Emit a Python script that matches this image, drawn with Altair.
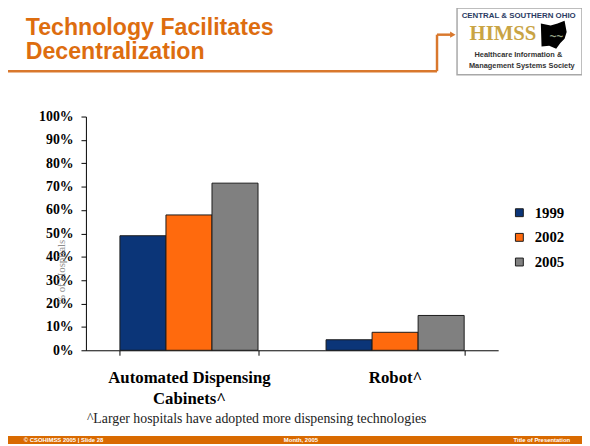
import altair as alt
import pandas as pd

# ---- data ----
categories = ["Automated Dispensing\nCabinets^", "Robot^"]
years = ["1999", "2002", "2005"]
values_1999 = [0.490, 0.045]
values_2002 = [0.579, 0.077]
values_2005 = [0.715, 0.149]
colors = ["#0B3578", "#FF6A0D", "#808080"]
title_lines = ["Technology Facilitates", "Decentralization"]

series = {"1999": values_1999, "2002": values_2002, "2005": values_2005}
rows = []
for yr in years:
    for cat, v in zip(categories, series[yr]):
        rows.append({"category": cat, "year": yr, "value": v})
df = pd.DataFrame(rows)

SERIF = "Liberation Serif"
SANS = "Liberation Sans"
ORANGE = "#DD6D0F"

bars = alt.Chart(df).mark_bar(stroke="#1a1a1a", strokeWidth=1).encode(
    x=alt.X(
        "category:N",
        sort=categories,
        scale=alt.Scale(paddingInner=0.33, paddingOuter=0.165),
        axis=alt.Axis(
            title=None,
            labelAngle=0,
            labelExpr="split(datum.label, '\\n')",
            labelFont=SERIF,
            labelFontWeight="bold",
            labelFontSize=17,
            labelColor="black",
            labelLineHeight=21,
            labelPadding=15,
            labelLimit=0,
            tickBand="extent",
            tickSize=5,
            tickColor="black",
            domainColor="black",
            grid=False,
        ),
    ),
    xOffset=alt.XOffset("year:N", sort=years, scale=alt.Scale(paddingInner=0, paddingOuter=0)),
    y=alt.Y(
        "value:Q",
        scale=alt.Scale(domain=[0, 1], nice=False),
        axis=alt.Axis(
            title="% of Hospitals",
            titleFont=SERIF,
            titleFontSize=11,
            titleFontWeight="normal",
            titleColor="#8c8c8c",
            titleX=-25,
            titleY=157,
            titleAlign="center",
            titleBaseline="middle",
            titleAngle=270,
            format=".0%",
            values=[i / 10 for i in range(11)],
            labelFont=SERIF,
            labelFontWeight="bold",
            labelFontSize=14,
            labelColor="black",
            labelPadding=8,
            tickSize=5,
            tickColor="black",
            domainColor="black",
            grid=False,
        ),
    ),
    color=alt.Color(
        "year:N",
        sort=years,
        scale=alt.Scale(domain=years, range=colors),
        legend=alt.Legend(
            title=None,
            orient="none",
            legendX=432,
            legendY=90,
            symbolType="square",
            symbolSize=64,
            symbolStrokeColor="#1a1a1a",
            symbolStrokeWidth=1,
            labelFont=SERIF,
            labelFontWeight="bold",
            labelFontSize=15,
            labelColor="black",
            labelOffset=8,
            rowPadding=9,
            padding=0,
        ),
    ),
)

dummy = alt.Data(values=[{"a": 1}])


def txt(text, x, y, size, color, font=SANS, weight="normal", align="left",
        baseline="middle", **kw):
    return alt.Chart(dummy).mark_text(
        font=font, fontSize=size, fontWeight=weight, color=color,
        align=align, baseline=baseline, **kw
    ).encode(x=alt.value(x), y=alt.value(y), text=alt.value(text))


def rule(x, x2, y, y2, color, width):
    return alt.Chart(dummy).mark_rule(color=color, strokeWidth=width).encode(
        x=alt.value(x), x2=alt.value(x2), y=alt.value(y), y2=alt.value(y2)
    )


title_1 = txt(title_lines[0], -61, -82.5, 23.5, ORANGE, weight="bold", baseline="alphabetic")
title_2 = txt(title_lines[1], -61, -58.5, 23.5, ORANGE, weight="bold", baseline="alphabetic")

line_col = "#D9782D"
conn1 = rule(-79, 356, -46, -46, line_col, 2.5)
conn2 = rule(356, 356, -46, -83, line_col, 2.5)
conn3 = rule(356, 370, -83, -83, line_col, 2.5)
arrow = alt.Chart(dummy).mark_point(shape="triangle-right", filled=True, color=line_col,
                                    size=40, opacity=1).encode(x=alt.value(372), y=alt.value(-83))

logo_box = alt.Chart(dummy).mark_rect(fill="white", stroke="#a8a8a8", strokeWidth=1.5).encode(
    x=alt.value(376.3), x2=alt.value(503), y=alt.value(-110), y2=alt.value(-42.3)
)
logo_t1 = txt("CENTRAL & SOUTHERN OHIO", 381, -101.7, 8, "#2B3B63", weight="bold")
logo_t2 = txt("HIMSS", 389, -84, 21, "#C9A444", font=SERIF, weight="bold")
ohio = alt.Chart(dummy).mark_point(
    shape="M-0.9,-0.8 L-0.2,-0.65 L0.3,-0.8 L0.8,-1 L0.95,-0.2 L0.8,0.3 L0.5,0.6 L0.2,1 L-0.3,0.8 L-0.85,0.85 Z",
    filled=True, color="black", size=800, opacity=1,
).encode(x=alt.value(474), y=alt.value(-83))
ohio_sq = txt("~~", 470, -82, 12, "#9aa88a", weight="bold")
logo_t3 = txt("Healthcare Information &", 438.5, -62.3, 7.5, "#333333", weight="bold", align="center")
logo_t4 = txt("Management Systems Society", 442, -51.7, 7.5, "#333333", weight="bold", align="center")

footnote = txt("^Larger hospitals have adopted more dispensing technologies", 1, 311, 14,
               "#222222", font=SERIF, baseline="alphabetic")

footer = alt.Chart(dummy).mark_rect(fill="#D96A00").encode(
    x=alt.value(-79), x2=alt.value(503), y=alt.value(324), y2=alt.value(332)
)
foot1 = txt("© CSOHIMSS 2005  |  Slide 28", -63, 328.5, 6, "white", weight="bold")
foot2 = txt("Month, 2005", 218, 328.5, 6, "white", weight="bold", align="center")
foot3 = txt("Title of Presentation", 491, 328.5, 6, "white", weight="bold", align="right")

chart = alt.layer(
    bars,
    title_1, title_2,
    conn1, conn2, conn3, arrow,
    logo_box, logo_t1, logo_t2, ohio, ohio_sq, logo_t3, logo_t4,
    footnote, footer, foot1, foot2, foot3,
).properties(
    width=418,
    height=237,
    autosize=alt.AutoSizeParams(type="none"),
    padding={"left": 79, "top": 107, "right": 85, "bottom": 94},
    background="white",
).configure_view(stroke=None)

chart.save("out.html", embed_options={"renderer": "svg", "actions": False})
